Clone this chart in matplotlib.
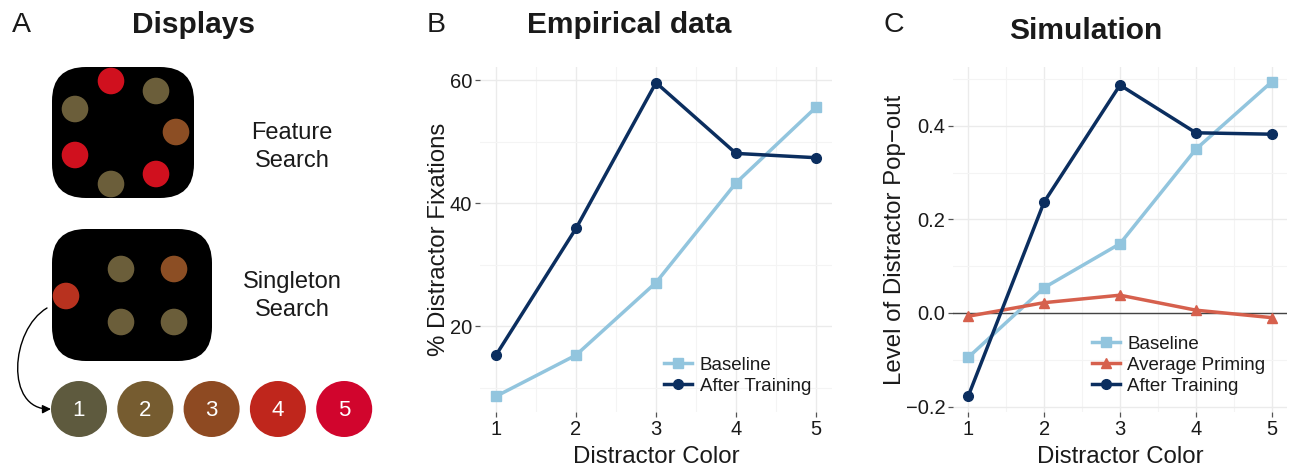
import matplotlib
matplotlib.use("Agg")
import matplotlib.pyplot as plt
from matplotlib.patches import FancyBboxPatch, Circle, FancyArrowPatch
from matplotlib.path import Path
import numpy as np

plt.rcParams['font.family'] = ['Liberation Sans', 'DejaVu Sans']

# ---------------- data ----------------
colors_x = [1, 2, 3, 4, 5]
x_ticks = [1, 2, 3, 4, 5]

emp_baseline = [8.6, 15.3, 27.1, 43.3, 55.6]
emp_after = [15.3, 35.9, 59.6, 48.1, 47.4]
emp_yticks = [20, 40, 60]

sim_baseline = [-0.095, 0.054, 0.148, 0.350, 0.494]
sim_priming = [-0.007, 0.022, 0.038, 0.006, -0.010]
sim_after = [-0.178, 0.237, 0.487, 0.385, 0.382]
sim_yticks = [-0.2, 0.0, 0.2, 0.4]
sim_yticklabels = ["\u22120.2", "0.0", "0.2", "0.4"]

swatch_labels = ["1", "2", "3", "4", "5"]
swatch_colors = ["#5e5a3e", "#765c30", "#8e4a22", "#bf261c", "#d1052d"]

C_BASE = "#92c5de"
C_AFTER = "#0b2e5f"
C_PRIME = "#d6604d"
TXT = "#1a1a1a"

fig = plt.figure(figsize=(12.91, 4.69), dpi=100)

# ---------------- Panel A (schematic) ----------------
axA = fig.add_axes([0, 0, 420 / 1291, 1])
axA.set_xlim(0, 420)
axA.set_ylim(469, 0)
axA.axis('off')

olive = "#6b5e3a"
brown = "#8c4e24"
red = "#d0101e"
redbrown = "#b8321f"

def rbox(x0, y0, x1, y1, r):
    p = FancyBboxPatch((x0, y0), x1 - x0, y1 - y0,
                       boxstyle=f"round,pad=0,rounding_size={r}",
                       fc="black", ec="none")
    axA.add_patch(p)

rbox(52, 67, 194, 198, 34)
top_dots = [((111, 81), red), ((156, 91), olive), ((75, 109), olive),
            ((176, 132), brown), ((75, 155), red), ((156, 174), red),
            ((111, 184), olive)]
for (cx, cy), c in top_dots:
    axA.add_patch(Circle((cx, cy), 13.3, fc=c, ec="none"))

rbox(52, 229, 212, 361, 34)
bot_dots = [((66, 296), redbrown), ((121, 269), olive), ((174, 269), brown),
            ((121, 322), olive), ((174, 322), olive)]
for (cx, cy), c in bot_dots:
    axA.add_patch(Circle((cx, cy), 13.3, fc=c, ec="none"))

axA.text(292, 147, "Feature\nSearch", ha="center", va="center",
         fontsize=17, color=TXT, linespacing=1.3)
axA.text(292, 296, "Singleton\nSearch", ha="center", va="center",
         fontsize=17, color=TXT, linespacing=1.3)

for i, (lab, col) in enumerate(zip(swatch_labels, swatch_colors)):
    cx = 79 + i * 66.3
    axA.add_patch(Circle((cx, 409), 28, fc=col, ec="none"))
    axA.text(cx, 410, lab, ha="center", va="center", color="white", fontsize=16)

verts = [(47, 308), (10, 330), (5, 410), (51, 409)]
path = Path(verts, [Path.MOVETO, Path.CURVE4, Path.CURVE4, Path.CURVE4])
arr = FancyArrowPatch(path=path, arrowstyle="-|>,head_length=5,head_width=2.5",
                      color="black", lw=1.0)
axA.add_patch(arr)

fig.text(21 / 1291, 1 - 25 / 469, "A", ha="center", va="center", fontsize=20.5, color=TXT)
fig.text(193 / 1291, 1 - 25 / 469, "Displays", ha="center", va="center",
         fontsize=21.5, fontweight="bold", color=TXT)

# ---------------- helper for ggplot-like axes ----------------
def style_axes(ax, xminor, yminor):
    for s in ax.spines.values():
        s.set_visible(False)
    ax.set_facecolor("white")
    ax.set_xticks(x_ticks)
    ax.set_xticks(xminor, minor=True)
    ax.set_yticks(yminor, minor=True)
    ax.grid(True, which="major", color="#ebebeb", lw=1.0)
    ax.grid(True, which="minor", color="#f4f4f4", lw=0.8)
    ax.set_axisbelow(True)
    ax.tick_params(which="major", length=3.5, width=0.9, color="#555555",
                   labelsize=14.5, labelcolor=TXT, pad=2)
    ax.tick_params(which="minor", length=0)

# ---------------- Panel B ----------------
axB = fig.add_axes([480 / 1291, 57 / 469, 352 / 1291, 345 / 469])
axB.plot(colors_x, emp_baseline, color=C_BASE, lw=2.5, marker="s", ms=6.5,
         label="Baseline", zorder=3)
axB.plot(colors_x, emp_after, color=C_AFTER, lw=2.5, marker="o", ms=7,
         label="After Training", zorder=4)
axB.set_xlim(0.8, 5.2)
axB.set_ylim(6.05, 62.15)
axB.set_yticks(emp_yticks)
style_axes(axB, [1.5, 2.5, 3.5, 4.5], [10, 30, 50])
axB.set_xlabel("Distractor Color", fontsize=17.3, color=TXT, labelpad=5)
axB.set_ylabel("% Distractor Fixations", fontsize=17.3, color=TXT, labelpad=0)
legB = axB.legend(loc="lower right", bbox_to_anchor=(0.94, 0.05), frameon=False,
                  fontsize=13.5, handlelength=1.5, handletextpad=0.4,
                  labelspacing=0.2, borderpad=0, borderaxespad=0)
for t in legB.get_texts():
    t.set_color(TXT)
fig.text(436 / 1291, 1 - 25 / 469, "B", ha="center", va="center", fontsize=20.5, color=TXT)
fig.text(629 / 1291, 1 - 25 / 469, "Empirical data", ha="center", va="center",
         fontsize=21.5, fontweight="bold", color=TXT)

# ---------------- Panel C ----------------
axC = fig.add_axes([953 / 1291, 57 / 469, 334 / 1291, 345 / 469])
axC.axhline(0, color="#444444", lw=1.0, zorder=2)
axC.plot(colors_x, sim_baseline, color=C_BASE, lw=2.5, marker="s", ms=6.5,
         label="Baseline", zorder=3)
axC.plot(colors_x, sim_priming, color=C_PRIME, lw=2.5, marker="^", ms=7,
         label="Average Priming", zorder=3)
axC.plot(colors_x, sim_after, color=C_AFTER, lw=2.5, marker="o", ms=7,
         label="After Training", zorder=4)
axC.set_xlim(0.8, 5.2)
axC.set_ylim(-0.2116, 0.5256)
axC.set_yticks(sim_yticks)
axC.set_yticklabels(sim_yticklabels)
style_axes(axC, [1.5, 2.5, 3.5, 4.5], [-0.1, 0.1, 0.3, 0.5])
axC.set_xlabel("Distractor Color", fontsize=17.3, color=TXT, labelpad=5)
axC.set_ylabel("Level of Distractor Pop\u2212out", fontsize=17.3, color=TXT, labelpad=0)
legC = axC.legend(loc="lower right", bbox_to_anchor=(0.935, 0.05), frameon=False,
                  fontsize=13.5, handlelength=1.5, handletextpad=0.4,
                  labelspacing=0.2, borderpad=0, borderaxespad=0)
for t in legC.get_texts():
    t.set_color(TXT)
fig.text(894 / 1291, 1 - 25 / 469, "C", ha="center", va="center", fontsize=20.5, color=TXT)
fig.text(1086 / 1291, 1 - 31 / 469, "Simulation", ha="center", va="center",
         fontsize=21.5, fontweight="bold", color=TXT)

fig.savefig("out.png", dpi=100)
